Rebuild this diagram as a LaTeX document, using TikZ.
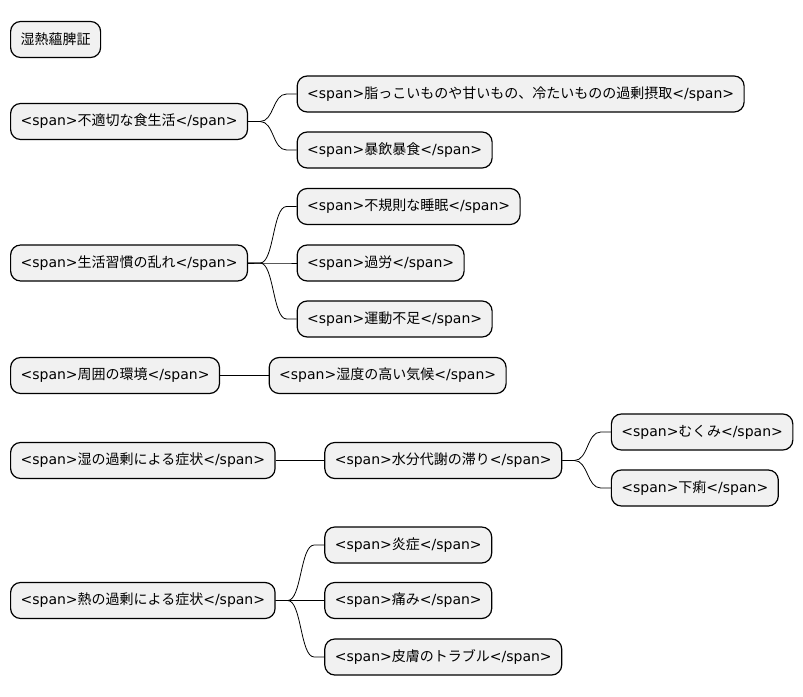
\documentclass[tikz,border=0pt]{standalone}
\usepackage{fontspec}
\setmainfont{DejaVu Sans}
\newfontfamily\jpfont{Noto Sans CJK JP}
\newcommand\jp[1]{{\jpfont #1}}
\usepackage{tikz}
\usetikzlibrary{positioning}
\definecolor{mmfill}{HTML}{F1F1F1}
\tikzset{
  mmbox/.style={draw=black,fill=mmfill,line width=1.2pt,rounded corners=10pt,
    minimum height=36pt,inner xsep=10pt,inner ysep=2pt,anchor=west,
    font=\fontsize{14}{16}\selectfont},
  mmedge/.style={line width=0.8pt,black},
  node distance=48.5pt,
}
\begin{document}
\begin{tikzpicture}[x=1pt,y=1pt]
  \useasboundingbox (0,0) rectangle (803,-696);
  \node[mmbox] (root) at (10,-39.5) {\jp{湿熱蘊脾証}};
  % causes
  \node[mmbox] (food) at (10,-121.5) {<span>\jp{不適切な食生活}</span>};
  \node[mmbox,right=of food,yshift=27.5pt] (fatty) {<span>\jp{脂っこいものや甘いもの、冷たいものの過剰摂取}</span>};
  \node[mmbox,right=of food,yshift=-28.5pt] (binge) {<span>\jp{暴飲暴食}</span>};
  \node[mmbox] (life) at (10,-263) {<span>\jp{生活習慣の乱れ}</span>};
  \node[mmbox,right=of life,yshift=56.5pt] (sleep) {<span>\jp{不規則な睡眠}</span>};
  \node[mmbox,right=of life] (fatigue) {<span>\jp{過労}</span>};
  \node[mmbox,right=of life,yshift=-56pt] (exercise) {<span>\jp{運動不足}</span>};
  \node[mmbox] (env) at (10,-375.5) {<span>\jp{周囲の環境}</span>};
  \node[mmbox,right=of env] (humid) {<span>\jp{湿度の高い気候}</span>};
  % symptoms
  \node[mmbox] (damp) at (10,-460.5) {<span>\jp{湿の過剰による症状}</span>};
  \node[mmbox,right=of damp] (water) {<span>\jp{水分代謝の滞り}</span>};
  \node[mmbox,right=of water,yshift=28.5pt] (swell) {<span>\jp{むくみ}</span>};
  \node[mmbox,right=of water,yshift=-27.5pt] (diarrhea) {<span>\jp{下痢}</span>};
  \node[mmbox] (heat) at (10,-600.5) {<span>\jp{熱の過剰による症状}</span>};
  \node[mmbox,right=of heat,yshift=55.5pt] (inflam) {<span>\jp{炎症}</span>};
  \node[mmbox,right=of heat] (pain) {<span>\jp{痛み}</span>};
  \node[mmbox,right=of heat,yshift=-56.5pt] (skin) {<span>\jp{皮膚のトラブル}</span>};

  \foreach \p/\c in {food/fatty,food/binge,life/sleep,life/fatigue,life/exercise,
    env/humid,damp/water,water/swell,water/diarrhea,heat/inflam,heat/pain,heat/skin}
    \draw[mmedge] (\p.east) -- ++(12,0) .. controls +(14,0) and +(-14,0)
      .. ([xshift=-10pt]\c.west) -- (\c.west);
\end{tikzpicture}
\end{document}
